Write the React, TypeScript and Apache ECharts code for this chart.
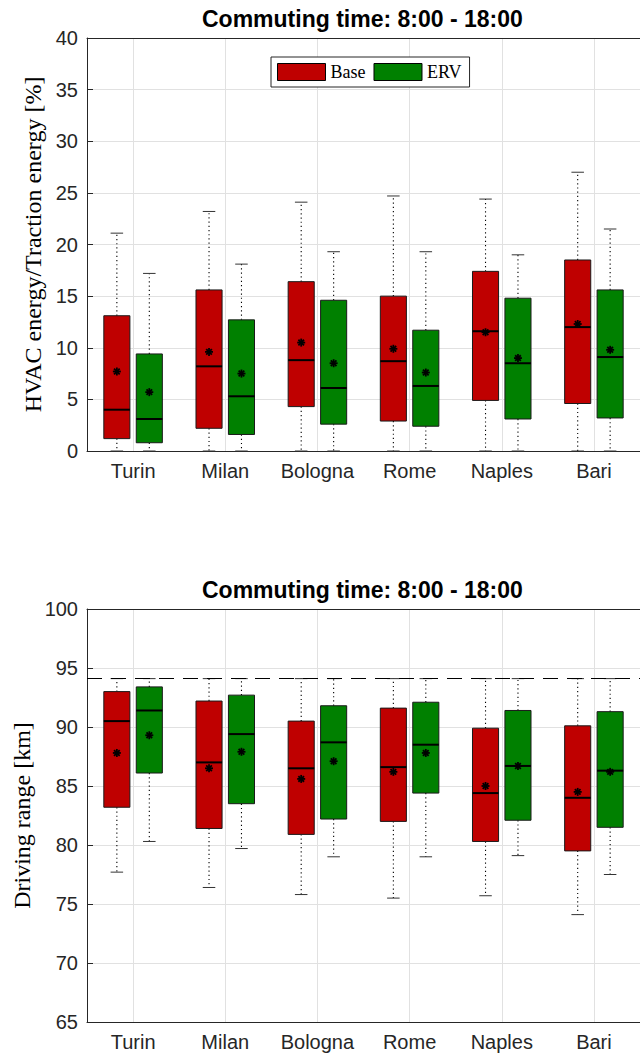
import React, { useEffect, useRef } from "react";
import * as echarts from "echarts";

const categories = ["Turin", "Milan", "Bologna", "Rome", "Naples", "Bari"];

// HVAC energy / traction energy [%]: [min, q1, median, q3, max]
const hvacBase = [
  [0, 1.2, 4.0, 13.1, 21.1],
  [0, 2.2, 8.2, 15.6, 23.2],
  [0, 4.3, 8.8, 16.4, 24.1],
  [0, 2.9, 8.7, 15.0, 24.7],
  [0, 4.9, 11.6, 17.4, 24.4],
  [0, 4.6, 12.0, 18.5, 27.0],
];
const hvacBaseMean = [7.7, 9.6, 10.5, 9.9, 11.5, 12.3];
const hvacErv = [
  [0, 0.8, 3.1, 9.4, 17.2],
  [0, 1.6, 5.3, 12.7, 18.1],
  [0, 2.6, 6.1, 14.6, 19.3],
  [0, 2.4, 6.3, 11.7, 19.3],
  [0, 3.1, 8.5, 14.8, 19.0],
  [0, 3.2, 9.1, 15.6, 21.5],
];
const hvacErvMean = [5.7, 7.5, 8.5, 7.6, 9.0, 9.8];

// Driving range [km]: [min, q1, median, q3, max]
const rangeBase = [
  [77.7, 83.2, 90.5, 93.0, 94.1],
  [76.4, 81.4, 87.0, 92.2, 94.1],
  [75.8, 80.9, 86.5, 90.5, 94.1],
  [75.5, 82.0, 86.6, 91.6, 94.1],
  [75.7, 80.3, 84.4, 89.9, 94.1],
  [74.1, 79.5, 84.0, 90.1, 94.1],
];
const rangeBaseMean = [87.8, 86.5, 85.6, 86.2, 85.0, 84.5];
const rangeErv = [
  [80.3, 86.1, 91.4, 93.4, 94.1],
  [79.7, 83.5, 89.4, 92.7, 94.1],
  [79.0, 82.2, 88.7, 91.8, 94.1],
  [79.0, 84.4, 88.5, 92.1, 94.1],
  [79.1, 82.1, 86.7, 91.4, 94.1],
  [77.5, 81.5, 86.3, 91.3, 94.1],
];
const rangeErvMean = [89.3, 87.9, 87.1, 87.8, 86.7, 86.2];
const maxRange = 94.1;

const hvacTicks = { min: 0, max: 40, interval: 5 };
const rangeTicks = { min: 65, max: 100, interval: 5 };

const RED = "#bf0000";
const GREEN = "#008000";
const AXIS = "#262626";
const GRIDC = "#e1e1e1";

function rows(stats: number[][], means: number[]) {
  return stats.map((s, i) => [i, ...s, means[i]]);
}

function makeRender(offsetFrac: number) {
  return (params: any, api: any) => {
    const cat = api.value(0);
    const band = api.size([1, 0])[0];
    const cx = api.coord([cat, api.value(3)])[0] + offsetFrac * band;
    const y = (i: number) => api.coord([cat, api.value(i)])[1];
    const yMin = y(1), yQ1 = y(2), yMed = y(3), yQ3 = y(4), yMax = y(5), yMean = y(6);
    const bw = 0.283 * band;
    const cap = bw * 0.48;
    const color = api.visual("color");
    const dotted = { stroke: "#000", lineWidth: 1.1, lineDash: [1.2, 3] };
    const m = 4;
    const d = m * 0.7071;
    const star = { stroke: "#000", lineWidth: 1.8 };
    return {
      type: "group",
      children: [
        { type: "line", shape: { x1: cx, y1: yQ3, x2: cx, y2: yMax }, style: dotted },
        { type: "line", shape: { x1: cx, y1: yQ1, x2: cx, y2: yMin }, style: dotted },
        { type: "line", shape: { x1: cx - cap / 2, y1: yMax, x2: cx + cap / 2, y2: yMax }, style: { stroke: "#333", lineWidth: 1 } },
        { type: "line", shape: { x1: cx - cap / 2, y1: yMin, x2: cx + cap / 2, y2: yMin }, style: { stroke: "#333", lineWidth: 1 } },
        {
          type: "rect",
          shape: { x: cx - bw / 2, y: yQ3, width: bw, height: yQ1 - yQ3 },
          style: { fill: color, stroke: "#1a1a1a", lineWidth: 1 },
        },
        { type: "line", shape: { x1: cx - bw / 2, y1: yMed, x2: cx + bw / 2, y2: yMed }, style: { stroke: "#000", lineWidth: 2 } },
        { type: "line", shape: { x1: cx - m, y1: yMean, x2: cx + m, y2: yMean }, style: star },
        { type: "line", shape: { x1: cx, y1: yMean - m, x2: cx, y2: yMean + m }, style: star },
        { type: "line", shape: { x1: cx - d, y1: yMean - d, x2: cx + d, y2: yMean + d }, style: star },
        { type: "line", shape: { x1: cx - d, y1: yMean + d, x2: cx + d, y2: yMean - d }, style: star },
      ],
    };
  };
}

function xAxes(gridIndex: number) {
  return [
    {
      type: "category",
      gridIndex,
      data: categories,
      boundaryGap: true,
      axisLine: { lineStyle: { color: AXIS, width: 1 } },
      axisTick: { inside: true, alignWithLabel: true, interval: 0, length: 6, lineStyle: { color: AXIS } },
      axisLabel: { interval: 0, fontSize: 20, color: AXIS, fontFamily: "Liberation Sans", margin: 10 },
      splitLine: { show: true, interval: 0, alignWithLabel: true, lineStyle: { color: GRIDC, width: 1 } },
    },
    {
      type: "category",
      gridIndex,
      position: "top",
      data: categories,
      boundaryGap: true,
      axisLine: { lineStyle: { color: AXIS, width: 1 } },
      axisTick: { inside: true, alignWithLabel: true, interval: 0, length: 6, lineStyle: { color: AXIS } },
      axisLabel: { show: false, interval: 0 },
      splitLine: { show: false },
    },
  ];
}

function yAxis(gridIndex: number, ticks: any, name: string) {
  return {
    type: "value",
    gridIndex,
    min: ticks.min,
    max: ticks.max,
    interval: ticks.interval,
    name,
    nameLocation: "middle",
    nameGap: 42,
    nameTextStyle: { fontFamily: "Liberation Serif", fontSize: 24, color: "#000" },
    axisLine: { show: true, lineStyle: { color: AXIS, width: 1 } },
    axisTick: { show: true, inside: true, length: 6, lineStyle: { color: AXIS } },
    axisLabel: { fontSize: 20, color: AXIS, fontFamily: "Liberation Sans", margin: 9 },
    splitLine: { show: true, lineStyle: { color: GRIDC, width: 1 } },
  };
}

function boxSeries(name: string, color: string, data: any[], xi: number, yi: number, off: number) {
  return {
    type: "custom",
    name,
    xAxisIndex: xi,
    yAxisIndex: yi,
    itemStyle: { color, borderColor: "#000", borderWidth: 1 },
    encode: { x: 0, y: [1, 2, 3, 4, 5, 6] },
    renderItem: makeRender(off),
    data,
  };
}

export default function App() {
  const ref = useRef<HTMLDivElement>(null);
  useEffect(() => {
    if (!ref.current) return;
    const chart = echarts.init(ref.current, null, { renderer: "svg" });
    const titleStyle = { fontFamily: "Liberation Sans", fontWeight: "bold", fontSize: 23, color: "#000" };
    chart.setOption({
      animation: false,
      backgroundColor: "#fff",
      title: [
        { text: "Commuting time: 8:00 - 18:00", left: 202, top: 7, padding: 0, textStyle: titleStyle },
        { text: "Commuting time: 8:00 - 18:00", left: 202, top: 578, padding: 0, textStyle: titleStyle },
      ],
      legend: {
        left: 271,
        top: 57,
        orient: "horizontal",
        data: ["Base", "ERV"],
        icon: "rect",
        itemWidth: 48,
        itemHeight: 17,
        itemGap: 8,
        padding: [6, 8, 6, 6],
        borderColor: AXIS,
        borderWidth: 1,
        backgroundColor: "#fff",
        itemStyle: { borderColor: "#000", borderWidth: 1 },
        textStyle: { fontFamily: "Liberation Serif", fontSize: 18, color: "#000" },
        selectedMode: false,
      },
      grid: [
        { left: 87, top: 38, width: 562, height: 413 },
        { left: 87, top: 609, width: 562, height: 413 },
      ],
      xAxis: [...xAxes(0), ...xAxes(1)],
      yAxis: [
        yAxis(0, hvacTicks, "HVAC energy/Traction energy [%]"),
        yAxis(1, rangeTicks, "Driving range [km]"),
      ],
      series: [
        boxSeries("Base", RED, rows(hvacBase, hvacBaseMean), 0, 0, -0.176),
        boxSeries("ERV", GREEN, rows(hvacErv, hvacErvMean), 0, 0, 0.176),
        boxSeries("Base", RED, rows(rangeBase, rangeBaseMean), 2, 1, -0.176),
        boxSeries("ERV", GREEN, rows(rangeErv, rangeErvMean), 2, 1, 0.176),
        {
          type: "line",
          name: "Max range",
          xAxisIndex: 2,
          yAxisIndex: 1,
          data: [],
          markLine: {
            silent: true,
            symbol: ["none", "none"],
            label: { show: false },
            lineStyle: { color: "#000", type: [15, 9], width: 1 },
            data: [{ yAxis: maxRange }],
          },
        },
      ],
    });
    return () => chart.dispose();
  }, []);
  return (
    <div
      ref={ref}
      style={{ position: "absolute", left: 0, top: 0, width: 640, height: 1059 }}
    />
  );
}
